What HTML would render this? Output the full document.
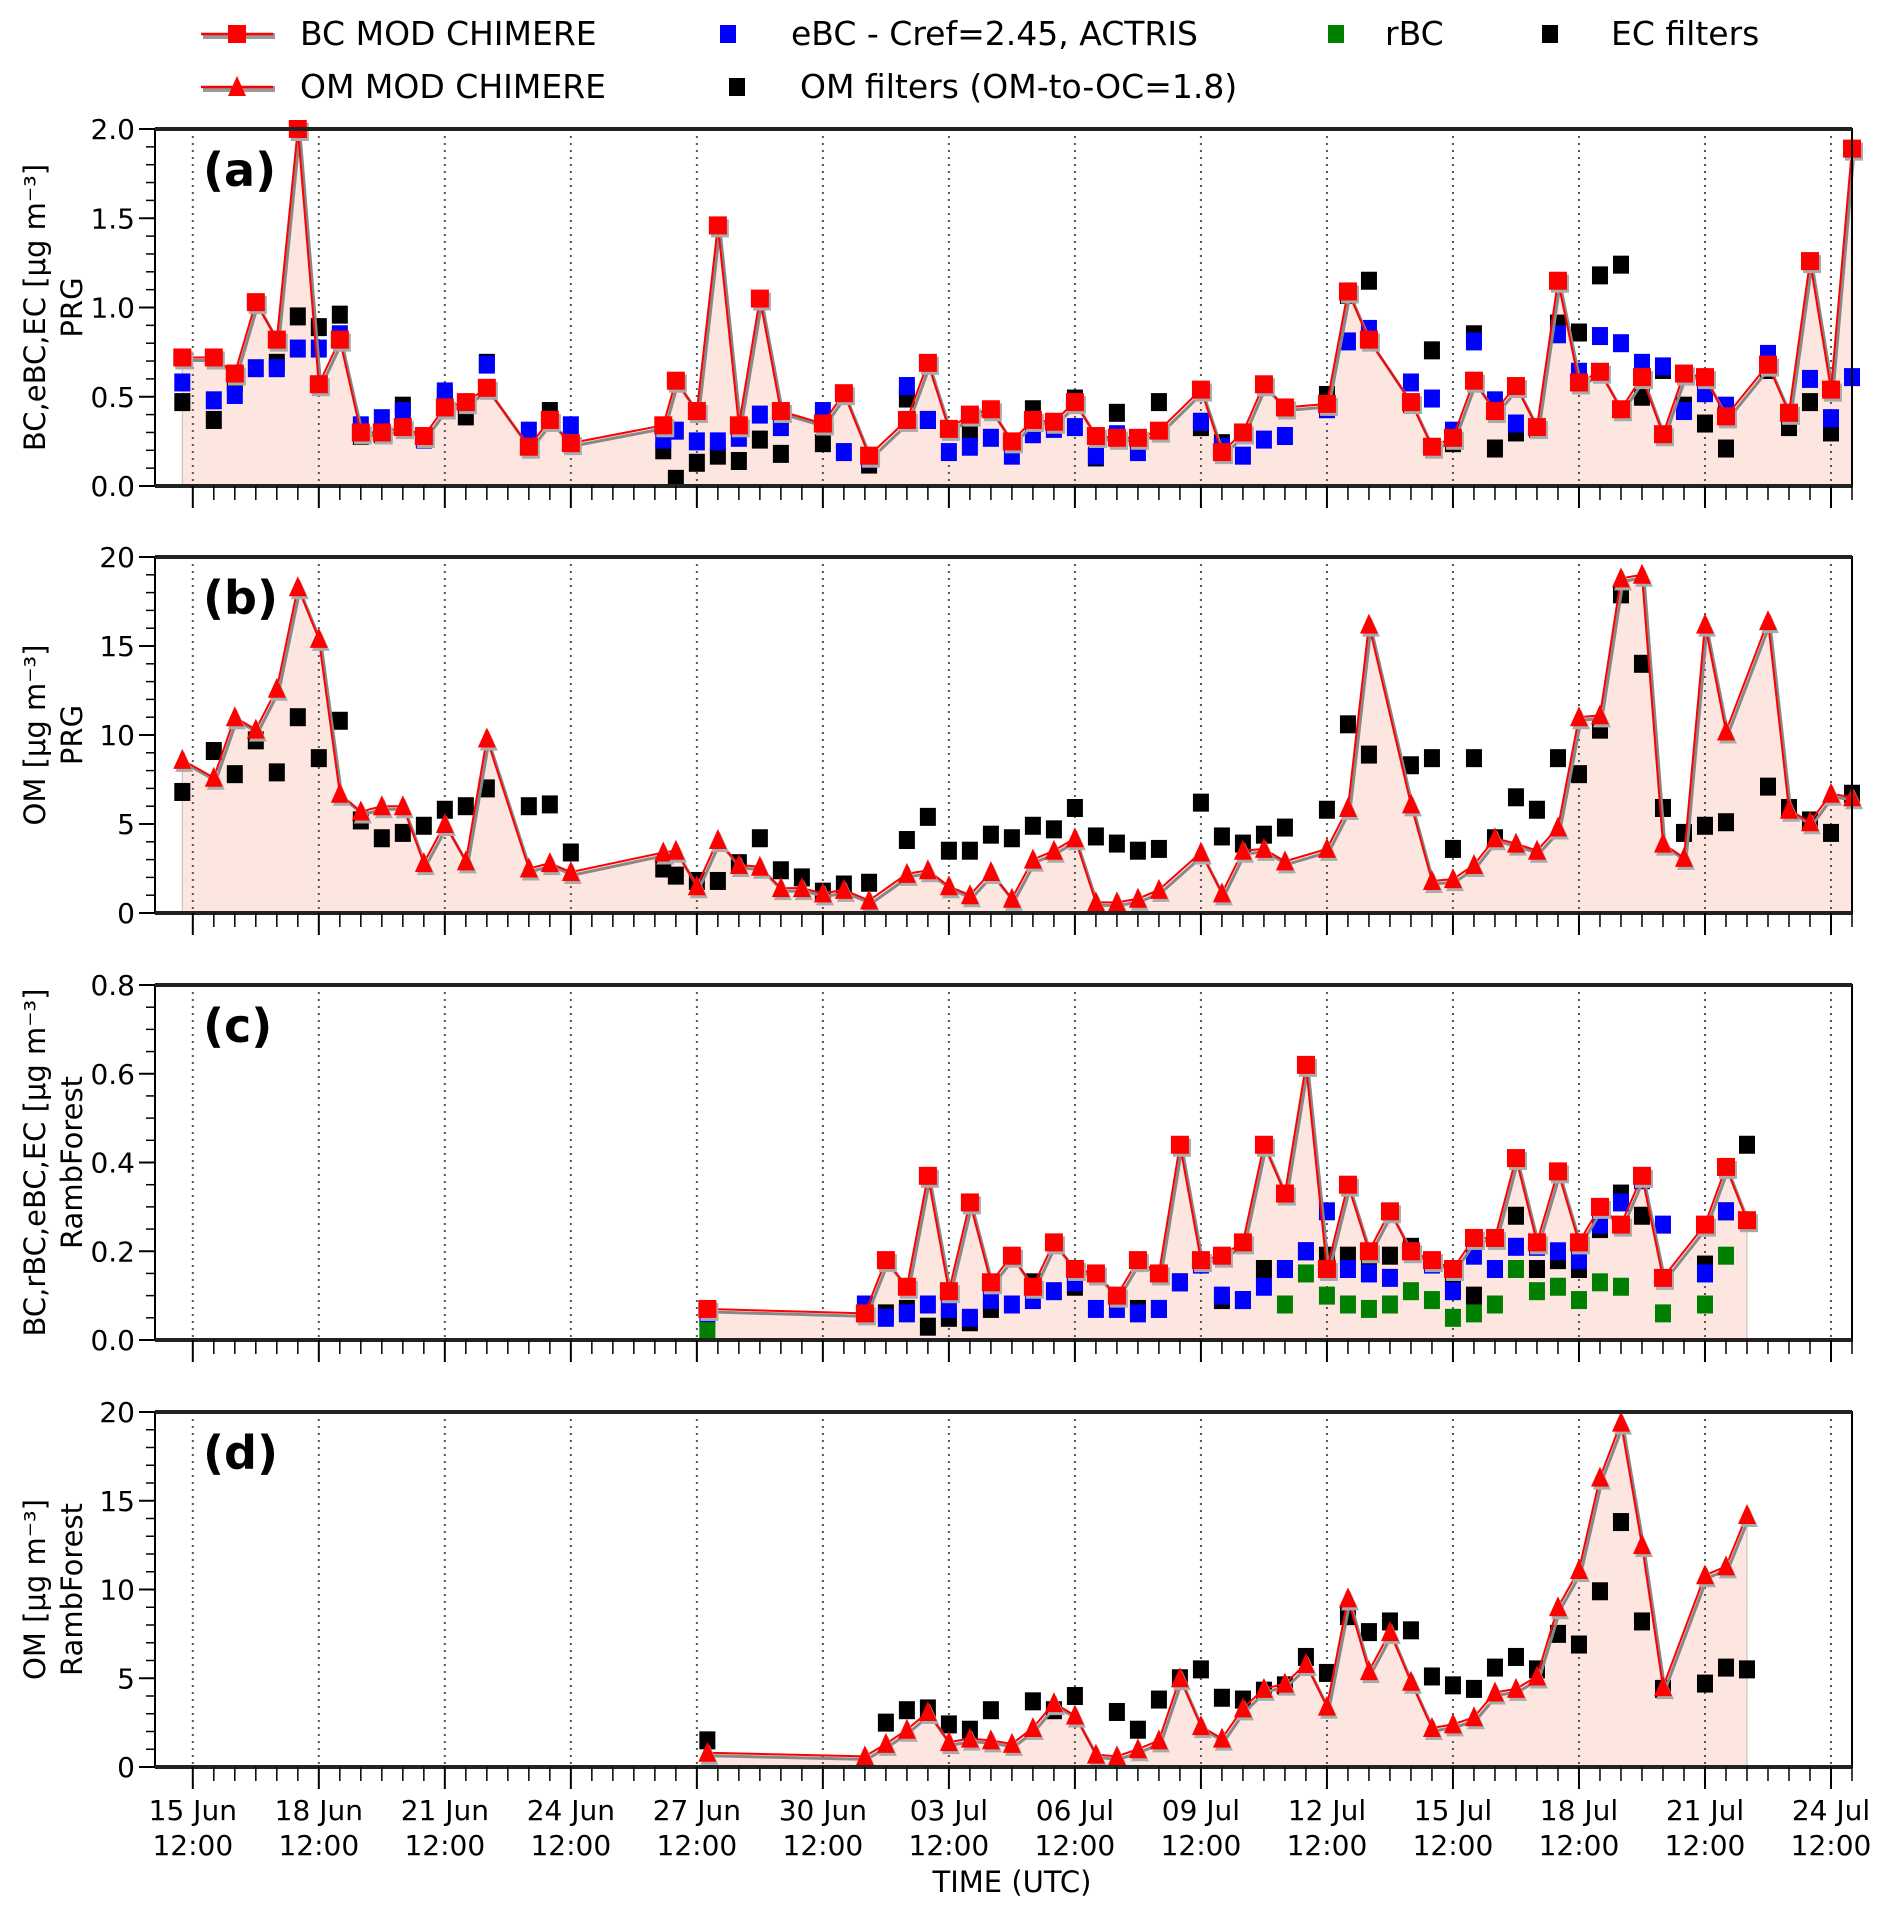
<!DOCTYPE html>
<html><head><meta charset="utf-8"><style>
html,body{margin:0;padding:0;background:#fff}
svg{display:block;font-family:"DejaVu Sans","Liberation Sans",sans-serif}
</style></head><body>
<svg id="chart" width="1892" height="1914" viewBox="0 0 1892 1914" xmlns="http://www.w3.org/2000/svg">
<g font-size="33" fill="#000">
  <g>
    <line x1="203" y1="36" x2="275" y2="36" stroke="#999" stroke-width="6"/>
    <line x1="201" y1="34" x2="273" y2="34" stroke="#f00" stroke-width="2.5"/>
    <rect x="228" y="25" width="18" height="18" fill="#f00"/>
    <text x="300" y="45">BC MOD CHIMERE</text>
  </g>
  <g><rect x="720" y="25" width="16" height="18" fill="#00f"/><text x="791" y="45">eBC - Cref=2.45, ACTRIS</text></g>
  <g><rect x="1328" y="25" width="16" height="18" fill="#008000"/><text x="1385" y="45">rBC</text></g>
  <g><rect x="1542" y="25" width="16" height="18" fill="#000"/><text x="1611" y="45">EC filters</text></g>
  <g>
    <line x1="203" y1="89" x2="275" y2="89" stroke="#999" stroke-width="6"/>
    <line x1="201" y1="87" x2="273" y2="87" stroke="#f00" stroke-width="2.5"/>
    <polygon points="237,76 246,96 228,96" fill="#f00"/>
    <text x="300" y="98">OM MOD CHIMERE</text>
  </g>
  <g><rect x="729" y="78" width="16" height="18" fill="#000"/><text x="800" y="98">OM filters (OM-to-OC=1.8)</text></g>
</g>
<g id="panels"></g>
<text x="1012" y="1892" font-size="29" text-anchor="middle">TIME (UTC)</text>
</svg>
<script>
// x values = days since 15 Jun 12:00 UTC
const xTickLabels = ["15 Jun","18 Jun","21 Jun","24 Jun","27 Jun","30 Jun","03 Jul","06 Jul","09 Jul","12 Jul","15 Jul","18 Jul","21 Jul","24 Jul"];
const aModelBC = [[-0.25,0.72],[0.5,0.72],[1,0.63],[1.5,1.03],[2,0.82],[2.5,2.0],[3,0.57],[3.5,0.82],[4,0.30],[4.5,0.30],[5,0.33],[5.5,0.28],[6,0.44],[6.5,0.47],[7,0.55],[8,0.22],[8.5,0.37],[9,0.24],[11.2,0.34],[11.5,0.59],[12,0.42],[12.5,1.46],[13,0.34],[13.5,1.05],[14,0.42],[15,0.35],[15.5,0.52],[16.1,0.17],[17,0.37],[17.5,0.69],[18,0.32],[18.5,0.40],[19,0.43],[19.5,0.25],[20,0.37],[20.5,0.36],[21,0.47],[21.5,0.28],[22,0.27],[22.5,0.27],[23,0.31],[24,0.54],[24.5,0.19],[25,0.30],[25.5,0.57],[26,0.44],[27,0.46],[27.5,1.09],[28,0.82],[29,0.47],[29.5,0.22],[30,0.27],[30.5,0.59],[31,0.42],[31.5,0.56],[32,0.33],[32.5,1.15],[33,0.58],[33.5,0.64],[34,0.43],[34.5,0.61],[35,0.29],[35.5,0.63],[36,0.61],[36.5,0.39],[37.5,0.68],[38,0.41],[38.5,1.26],[39,0.54],[39.5,1.89]];
const aEBC = [[-0.25,0.58],[0.5,0.48],[1,0.51],[1.5,0.66],[2,0.66],[2.5,0.77],[3,0.77],[3.5,0.85],[4,0.34],[4.5,0.38],[5,0.42],[5.5,0.26],[6,0.53],[7,0.68],[8,0.31],[9,0.34],[11.2,0.26],[11.5,0.31],[12,0.25],[12.5,0.25],[13,0.27],[13.5,0.40],[14,0.33],[15,0.42],[15.5,0.19],[16.1,0.15],[17,0.56],[17.5,0.37],[18,0.19],[18.5,0.22],[19,0.27],[19.5,0.17],[20,0.29],[20.5,0.32],[21,0.33],[21.5,0.17],[22,0.29],[22.5,0.19],[24,0.36],[24.5,0.22],[25,0.17],[25.5,0.26],[26,0.28],[27,0.43],[27.5,0.81],[28,0.88],[29,0.58],[29.5,0.49],[30,0.31],[30.5,0.81],[31,0.48],[31.5,0.35],[32,0.32],[32.5,0.85],[33,0.64],[33.5,0.84],[34,0.80],[34.5,0.69],[35,0.67],[35.5,0.42],[36,0.52],[36.5,0.45],[37.5,0.74],[38,0.41],[38.5,0.60],[39,0.38],[39.5,0.61]];
const aEC = [[-0.25,0.47],[0.5,0.37],[1,0.58],[2,0.69],[2.5,0.95],[3,0.89],[3.5,0.96],[4,0.28],[4.5,0.29],[5,0.45],[6,0.50],[6.5,0.39],[7,0.69],[8.5,0.42],[11.2,0.20],[11.5,0.04],[12,0.13],[12.5,0.17],[13,0.14],[13.5,0.26],[14,0.18],[15,0.24],[16.1,0.12],[17,0.49],[17.5,0.37],[18.5,0.30],[20,0.43],[21,0.49],[21.5,0.16],[22,0.41],[23,0.47],[24,0.33],[24.5,0.24],[27,0.51],[27.5,1.07],[28,1.15],[29,0.46],[29.5,0.76],[30,0.24],[30.5,0.85],[31,0.21],[31.5,0.30],[32.5,0.91],[33,0.86],[33.5,1.18],[34,1.24],[34.5,0.50],[35,0.65],[35.5,0.45],[36,0.35],[36.5,0.21],[37.5,0.65],[38,0.33],[38.5,0.47],[39,0.30]];
const bModelOM = [[-0.25,8.6],[0.5,7.6],[1,11.0],[1.5,10.3],[2,12.6],[2.5,18.3],[3,15.4],[3.5,6.7],[4,5.7],[4.5,6.0],[5,6.0],[5.5,2.8],[6,5.0],[6.5,2.9],[7,9.8],[8,2.5],[8.5,2.8],[9,2.3],[11.2,3.4],[11.5,3.5],[12,1.5],[12.5,4.1],[13,2.7],[13.5,2.6],[14,1.4],[14.5,1.4],[15,1.1],[15.5,1.3],[16.1,0.7],[17,2.2],[17.5,2.4],[18,1.5],[18.5,1.0],[19,2.3],[19.5,0.8],[20,3.0],[20.5,3.5],[21,4.2],[21.5,0.6],[22,0.6],[22.5,0.8],[23,1.3],[24,3.4],[24.5,1.1],[25,3.5],[25.5,3.6],[26,2.9],[27,3.6],[27.5,5.9],[28,16.2],[29,6.1],[29.5,1.8],[30,1.9],[30.5,2.7],[31,4.2],[31.5,3.9],[32,3.5],[32.5,4.8],[33,11.0],[33.5,11.1],[34,18.8],[34.5,19.0],[35,3.9],[35.5,3.1],[36,16.2],[36.5,10.2],[37.5,16.4],[38,5.8],[38.5,5.1],[39,6.7],[39.5,6.5]];
const bOMfilters = [[-0.25,6.8],[0.5,9.1],[1,7.8],[1.5,9.7],[2,7.9],[2.5,11.0],[3,8.7],[3.5,10.8],[4,5.2],[4.5,4.2],[5,4.5],[5.5,4.9],[6,5.8],[6.5,6.0],[7,7.0],[8,6.0],[8.5,6.1],[9,3.4],[11.2,2.5],[11.5,2.1],[12,1.8],[12.5,1.8],[13,2.8],[13.5,4.2],[14,2.4],[14.5,2.0],[15,1.2],[15.5,1.6],[16.1,1.7],[17,4.1],[17.5,5.4],[18,3.5],[18.5,3.5],[19,4.4],[19.5,4.2],[20,4.9],[20.5,4.7],[21,5.9],[21.5,4.3],[22,3.9],[22.5,3.5],[23,3.6],[24,6.2],[24.5,4.3],[25,3.9],[25.5,4.4],[26,4.8],[27,5.8],[27.5,10.6],[28,8.9],[29,8.3],[29.5,8.7],[30,3.6],[30.5,8.7],[31,4.2],[31.5,6.5],[32,5.8],[32.5,8.7],[33,7.8],[33.5,10.3],[34,17.9],[34.5,14.0],[35,5.9],[35.5,4.5],[36,4.9],[36.5,5.1],[37.5,7.1],[38,5.9],[38.5,5.2],[39,4.5],[39.5,6.7]];
const cModelBC = [[12.25,0.07],[16,0.06],[16.5,0.18],[17,0.12],[17.5,0.37],[18,0.11],[18.5,0.31],[19,0.13],[19.5,0.19],[20,0.12],[20.5,0.22],[21,0.16],[21.5,0.15],[22,0.10],[22.5,0.18],[23,0.15],[23.5,0.44],[24,0.18],[24.5,0.19],[25,0.22],[25.5,0.44],[26,0.33],[26.5,0.62],[27,0.16],[27.5,0.35],[28,0.20],[28.5,0.29],[29,0.20],[29.5,0.18],[30,0.16],[30.5,0.23],[31,0.23],[31.5,0.41],[32,0.22],[32.5,0.38],[33,0.22],[33.5,0.30],[34,0.26],[34.5,0.37],[35,0.14],[36,0.26],[36.5,0.39],[37,0.27]];
const cEBC = [[12.25,0.05],[16,0.08],[16.5,0.05],[17,0.06],[17.5,0.08],[18,0.07],[18.5,0.05],[19,0.09],[19.5,0.08],[20,0.09],[20.5,0.11],[21,0.13],[21.5,0.07],[22,0.07],[22.5,0.06],[23,0.07],[23.5,0.13],[24,0.17],[24.5,0.10],[25,0.09],[25.5,0.12],[26,0.16],[26.5,0.20],[27,0.29],[27.5,0.16],[28,0.15],[28.5,0.14],[29,0.20],[29.5,0.17],[30,0.11],[30.5,0.19],[31,0.16],[31.5,0.21],[32,0.21],[32.5,0.20],[33,0.18],[33.5,0.26],[34,0.31],[34.5,0.36],[35,0.26],[36,0.15],[36.5,0.29]];
const cRBC = [[12.25,0.02],[26,0.08],[26.5,0.15],[27,0.10],[27.5,0.08],[28,0.07],[28.5,0.08],[29,0.11],[29.5,0.09],[30,0.05],[30.5,0.06],[31,0.08],[31.5,0.16],[32,0.11],[32.5,0.12],[33,0.09],[33.5,0.13],[34,0.12],[35,0.06],[36,0.08],[36.5,0.19]];
const cEC = [[16.5,0.06],[17,0.07],[17.5,0.03],[18,0.05],[18.5,0.04],[19,0.07],[20,0.13],[21,0.12],[22.5,0.07],[23,0.07],[23.5,0.13],[24.5,0.09],[25,0.09],[25.5,0.16],[26,0.16],[26.5,0.20],[27,0.19],[27.5,0.19],[28,0.16],[28.5,0.19],[29,0.21],[30,0.12],[30.5,0.10],[31,0.16],[31.5,0.28],[32,0.16],[32.5,0.18],[33,0.16],[33.5,0.25],[34,0.33],[34.5,0.28],[36,0.17],[36.5,0.29],[37,0.44]];
const dModelOM = [[12.25,0.8],[16,0.6],[16.5,1.3],[17,2.1],[17.5,3.1],[18,1.4],[18.5,1.6],[19,1.5],[19.5,1.3],[20,2.2],[20.5,3.6],[21,2.9],[21.5,0.7],[22,0.6],[22.5,1.0],[23,1.5],[23.5,5.0],[24,2.3],[24.5,1.6],[25,3.3],[25.5,4.4],[26,4.7],[26.5,5.8],[27,3.4],[27.5,9.5],[28,5.4],[28.5,7.6],[29,4.8],[29.5,2.2],[30,2.4],[30.5,2.8],[31,4.2],[31.5,4.4],[32,5.1],[32.5,9.0],[33,11.1],[33.5,16.3],[34,19.4],[34.5,12.5],[35,4.5],[36,10.8],[36.5,11.3],[37,14.2]];
const dOMfilters = [[12.25,1.5],[16.5,2.5],[17,3.2],[17.5,3.3],[18,2.4],[18.5,2.1],[19,3.2],[20,3.7],[20.5,3.2],[21,4.0],[22,3.1],[22.5,2.1],[23,3.8],[23.5,5.0],[24,5.5],[24.5,3.9],[25,3.8],[25.5,4.3],[26,4.6],[26.5,6.2],[27,5.3],[27.5,8.5],[28,7.6],[28.5,8.2],[29,7.7],[29.5,5.1],[30,4.6],[30.5,4.4],[31,5.6],[31.5,6.2],[32,5.5],[32.5,7.5],[33,6.9],[33.5,9.9],[34,13.8],[34.5,8.2],[35,4.4],[36,4.7],[36.5,5.6],[37,5.5]];

const NS="http://www.w3.org/2000/svg";
const X0=155,X1=1852,DMIN=-0.9,DMAX=39.5;
function xs(d){return X0+(d-DMIN)/(DMAX-DMIN)*(X1-X0);}
function mk(tag,attrs,parent){const e=document.createElementNS(NS,tag);for(const k in attrs)e.setAttribute(k,attrs[k]);parent.appendChild(e);return e;}
const root=document.getElementById('panels');
const panels=[
 {id:'a',top:129,bot:486,max:2,maj:0.5,min:0.1,dec:1,lab:['BC,eBC,EC [μg m⁻³]','PRG'],model:aModelBC,tri:false,sc:[[aEC,'#000'],[aEBC,'#00f']]},
 {id:'b',top:557,bot:913,max:20,maj:5,min:1,dec:0,lab:['OM [μg m⁻³]','PRG'],model:bModelOM,tri:true,sc:[[bOMfilters,'#000']]},
 {id:'c',top:985,bot:1340,max:0.8,maj:0.2,min:0.05,dec:1,lab:['BC,rBC,eBC,EC [μg m⁻³]','RambForest'],model:cModelBC,tri:false,sc:[[cEC,'#000'],[cEBC,'#00f'],[cRBC,'#008000']]},
 {id:'d',top:1412,bot:1767,max:20,maj:5,min:1,dec:0,lab:['OM [μg m⁻³]','RambForest'],model:dModelOM,tri:true,sc:[[dOMfilters,'#000']]}
];
panels.forEach((p,pi)=>{
 const g=mk('g',{},root);
 
 
 const ys=v=>p.bot-(v/p.max)*(p.bot-p.top);
 const m=p.model;
 let pts=m.map(q=>xs(q[0])+','+ys(q[1])).join(' ');
 const fill=mk('polygon',{points:xs(m[0][0])+','+p.bot+' '+pts+' '+xs(m[m.length-1][0])+','+p.bot,fill:'#fde5e0',stroke:'#bbb','stroke-width':1},g);
 
 
 for(let i=0;i<xTickLabels.length;i++){
  const gl=mk('line',{x1:xs(i*3),x2:xs(i*3),y1:p.top,y2:p.bot,stroke:'#555','stroke-width':2,'stroke-dasharray':'2,5'},g);
  
  
 }
 p.sc.forEach(s=>{
  s[0].forEach(q=>{
   const r=mk('rect',{x:xs(q[0])-8,y:ys(q[1])-9,width:16,height:18,fill:s[1]},g);
   
   
  });
 });
 const sh=mk('polyline',{points:m.map(q=>(xs(q[0])+2)+','+(ys(q[1])+3)).join(' '),fill:'none',stroke:'#888','stroke-width':3},g);
 
 
 const ln=mk('polyline',{points:pts,fill:'none',stroke:'#f00','stroke-width':2},g);
 
 
 m.forEach(q=>{
  const x=xs(q[0]),y=ys(q[1]);
  let e,s2;
  if(p.tri){
   s2=mk('polygon',{points:(x+2)+','+(y-8)+' '+(x+11)+','+(y+12)+' '+(x-7)+','+(y+12),fill:'#aaa'},g);
   e=mk('polygon',{points:x+','+(y-11)+' '+(x+9)+','+(y+9)+' '+(x-9)+','+(y+9),fill:'#f00'},g);
  }else{
   s2=mk('rect',{x:x-7,y:y-6,width:18,height:18,fill:'#aaa'},g);
   e=mk('rect',{x:x-9,y:y-9,width:18,height:18,fill:'#f00'},g);
  }
  
  
  
  
 });
 const fr=mk('rect',{x:X0,y:p.top,width:X1-X0,height:p.bot-p.top,fill:'none',stroke:'#000','stroke-width':2},g);
 
 
 mk('line',{x1:X0,x2:X1,y1:p.top,y2:p.top,stroke:'#222','stroke-width':4},g);
 mk('line',{x1:X0,x2:X1,y1:p.bot,y2:p.bot,stroke:'#222','stroke-width':4},g);
 for(let d=0;d<=39.5;d+=0.5){
  const major=Math.abs(d/3-Math.round(d/3))<1e-6;
  mk('line',{x1:xs(d),x2:xs(d),y1:p.bot,y2:p.bot+(major?22:14),stroke:'#000','stroke-width':major?2:1.5},g);
 }
 const nMin=Math.round(p.max/p.min);
 for(let i=0;i<=nMin;i++){
  const v=i*p.min;const y=ys(v);
  const major=Math.abs(v/p.maj-Math.round(v/p.maj))<1e-6;
  mk('line',{x1:X0,x2:X0-(major?16:9),y1:y,y2:y,stroke:'#000','stroke-width':major?2:1.5},g);
  if(major){
   const t=mk('text',{x:X0-20,y:y+10,'font-size':28,'text-anchor':'end'},g);
   t.textContent=v.toFixed(p.dec);
   
   
  }
 }
 const pl=mk('text',{x:203,y:p.top+57,'font-size':46,'font-weight':'bold'},g);
 pl.textContent='('+p.id+')';
 
 
 const cy=(p.top+p.bot)/2;
 [[45,0],[82,1]].forEach(a=>{
  const t=mk('text',{x:a[0],y:cy,'font-size':29,'text-anchor':'middle',transform:'rotate(-90 '+a[0]+' '+cy+')'},g);
  t.textContent=p.lab[a[1]];
  
  
 });
 if(pi===3){
  xTickLabels.forEach((lb,i)=>{
   const t=mk('text',{x:xs(i*3),y:1820,'font-size':28,'text-anchor':'middle'},g);
   t.textContent=lb;
   
   
   const t2=mk('text',{x:xs(i*3),y:1855,'font-size':28,'text-anchor':'middle'},g);
   t2.textContent='12:00';
   
   
  });
 }
});
</script>
</body></html>
